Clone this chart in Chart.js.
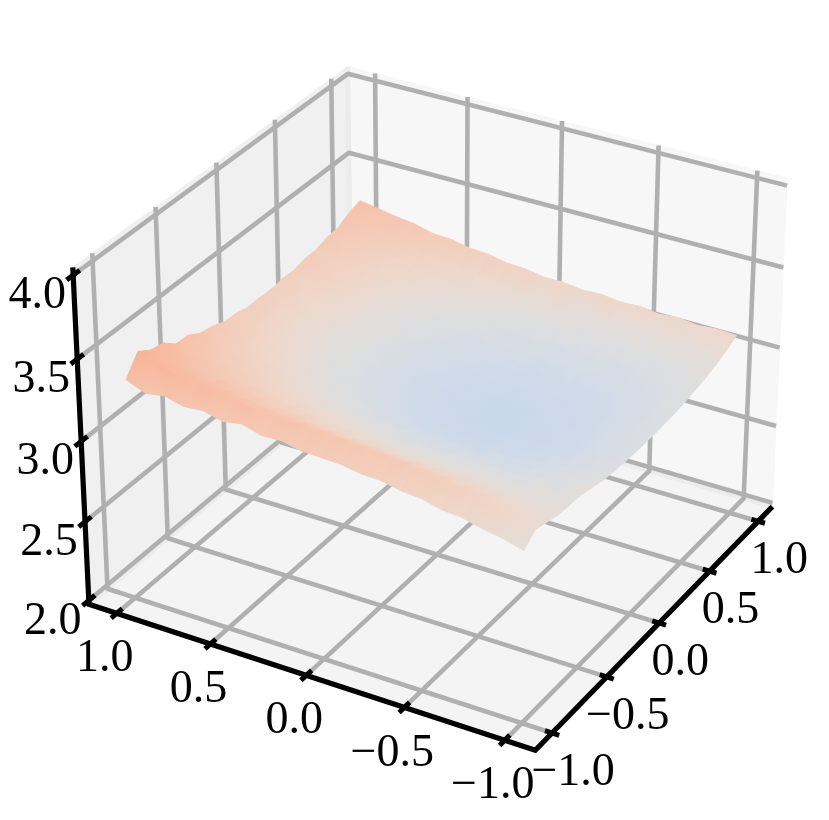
<!DOCTYPE html>
<html>
<head>
<meta charset="utf-8">
<title>Surface</title>
<script src="https://cdn.jsdelivr.net/npm/chart.js@4/dist/chart.umd.min.js"></script>
<style>
html, body { margin: 0; padding: 0; background: #fff; }
canvas { display: block; }
</style>
</head>
<body>
<canvas id="surfaceChart" width="829" height="820"></canvas>
<script>
// tick values and their labels
var xTicks = [1.0, 0.5, 0.0, -0.5, -1.0];
var yTicks = [-1.0, -0.5, 0.0, 0.5, 1.0];
var zTicks = [2.0, 2.5, 3.0, 3.5, 4.0];
var xTickLabels = ['1.0', '0.5', '0.0', '\u22120.5', '\u22121.0'];
var yTickLabels = ['\u22121.0', '\u22120.5', '0.0', '0.5', '1.0'];
var zTickLabels = ['2.0', '2.5', '3.0', '3.5', '4.0'];

// surface samples
var gridX = [1.0, 0.9, 0.8, 0.7, 0.6, 0.5, 0.4, 0.3, 0.2, 0.1, 0.0, -0.1, -0.2, -0.3, -0.4, -0.5, -0.6, -0.7, -0.8, -0.9, -1.0];
var gridY = [-1.0, -0.9, -0.8, -0.7, -0.6, -0.5, -0.4, -0.3, -0.2, -0.1, 0.0, 0.1, 0.2, 0.3, 0.4, 0.5, 0.6, 0.7, 0.8, 0.9, 1.0];
var surfaceZ = [
    [3.34, 3.29, 3.31, 3.28, 3.29, 3.26, 3.28, 3.245, 3.25, 3.225, 3.22, 3.215, 3.195, 3.19, 3.165, 3.155, 3.125, 3.115, 3.085, 3.065, 3.03],
    [3.45, 3.40, 3.37, 3.355, 3.34, 3.325, 3.31, 3.30, 3.295, 3.29, 3.28, 3.27, 3.26, 3.25, 3.235, 3.22, 3.20, 3.175, 3.15, 3.12, 3.09],
    [3.40, 3.36, 3.33, 3.31, 3.29, 3.27, 3.25, 3.24, 3.23, 3.22, 3.21, 3.20, 3.19, 3.18, 3.17, 3.16, 3.14, 3.13, 3.11, 3.09, 3.07],
    [3.385, 3.32, 3.28, 3.26, 3.24, 3.22, 3.19, 3.18, 3.16, 3.15, 3.14, 3.13, 3.12, 3.11, 3.11, 3.10, 3.09, 3.08, 3.07, 3.06, 3.05],
    [3.32, 3.285, 3.25, 3.22, 3.19, 3.17, 3.15, 3.13, 3.11, 3.10, 3.08, 3.07, 3.06, 3.06, 3.05, 3.05, 3.04, 3.04, 3.04, 3.04, 3.04],
    [3.315, 3.26, 3.22, 3.19, 3.16, 3.13, 3.11, 3.09, 3.07, 3.05, 3.04, 3.03, 3.02, 3.01, 3.01, 3.01, 3.01, 3.01, 3.02, 3.02, 3.04],
    [3.27, 3.23, 3.19, 3.16, 3.13, 3.10, 3.07, 3.04, 3.02, 3.01, 2.99, 2.98, 2.97, 2.97, 2.97, 2.97, 2.97, 2.98, 2.99, 3.00, 3.02],
    [3.255, 3.21, 3.16, 3.13, 3.10, 3.06, 3.03, 3.01, 2.98, 2.97, 2.95, 2.94, 2.93, 2.93, 2.93, 2.93, 2.94, 2.95, 2.97, 2.99, 3.00],
    [3.225, 3.19, 3.14, 3.11, 3.07, 3.04, 3.01, 2.98, 2.95, 2.93, 2.91, 2.90, 2.89, 2.89, 2.90, 2.90, 2.91, 2.93, 2.95, 2.97, 2.99],
    [3.22, 3.17, 3.13, 3.09, 3.05, 3.015, 2.98, 2.95, 2.92, 2.90, 2.885, 2.875, 2.865, 2.865, 2.87, 2.88, 2.89, 2.91, 2.93, 2.96, 2.985],
    [3.20, 3.16, 3.115, 3.075, 3.035, 3.00, 2.965, 2.935, 2.91, 2.89, 2.87, 2.86, 2.85, 2.85, 2.86, 2.865, 2.88, 2.895, 2.925, 2.955, 2.98],
    [3.205, 3.155, 3.11, 3.07, 3.03, 2.995, 2.96, 2.93, 2.90, 2.88, 2.86, 2.85, 2.84, 2.84, 2.85, 2.855, 2.87, 2.89, 2.92, 2.95, 2.98],
    [3.195, 3.16, 3.11, 3.07, 3.03, 3.00, 2.96, 2.93, 2.90, 2.88, 2.86, 2.85, 2.84, 2.84, 2.85, 2.86, 2.87, 2.89, 2.92, 2.95, 2.98],
    [3.21, 3.16, 3.12, 3.08, 3.04, 3.00, 2.97, 2.94, 2.91, 2.89, 2.87, 2.86, 2.85, 2.85, 2.86, 2.87, 2.88, 2.90, 2.93, 2.96, 2.985],
    [3.205, 3.17, 3.13, 3.09, 3.05, 3.02, 2.98, 2.95, 2.93, 2.91, 2.89, 2.88, 2.87, 2.87, 2.875, 2.88, 2.89, 2.91, 2.94, 2.965, 2.99],
    [3.225, 3.18, 3.14, 3.10, 3.06, 3.03, 3.00, 2.97, 2.945, 2.925, 2.905, 2.895, 2.89, 2.885, 2.895, 2.90, 2.91, 2.925, 2.95, 2.975, 3.00],
    [3.225, 3.19, 3.155, 3.12, 3.08, 3.05, 3.02, 3.00, 2.97, 2.95, 2.935, 2.925, 2.915, 2.915, 2.92, 2.925, 2.935, 2.95, 2.97, 2.99, 3.015],
    [3.25, 3.21, 3.175, 3.14, 3.11, 3.08, 3.05, 3.03, 3.00, 2.985, 2.97, 2.96, 2.95, 2.95, 2.955, 2.955, 2.96, 2.975, 2.99, 3.01, 3.03],
    [3.255, 3.23, 3.20, 3.17, 3.14, 3.115, 3.09, 3.07, 3.05, 3.03, 3.01, 3.00, 2.995, 2.99, 2.995, 2.995, 3.00, 3.01, 3.02, 3.035, 3.05],
    [3.295, 3.26, 3.24, 3.21, 3.18, 3.16, 3.14, 3.12, 3.10, 3.09, 3.075, 3.065, 3.06, 3.055, 3.055, 3.05, 3.05, 3.055, 3.06, 3.07, 3.08],
    [3.32, 3.30, 3.28, 3.265, 3.235, 3.23, 3.205, 3.20, 3.175, 3.17, 3.15, 3.15, 3.135, 3.14, 3.125, 3.13, 3.115, 3.125, 3.11, 3.12, 3.113]
];

// colour stops along z
var colorZ = [2.84, 2.90, 2.96, 3.03, 3.12, 3.22, 3.32, 3.45];
var colorR = [202, 209, 217, 225, 238, 243, 247, 250];
var colorG = [216, 219, 221, 222, 216, 205, 192, 178];
var colorB = [236, 232, 227, 219, 204, 186, 168, 150];

// axis box
var xLim = 1.15, yLim = 1.15, zMin = 1.975, zMax = 4.045;

// same camera as a default 3d view, x axis flipped (elev 30, azim -60, dist 10)
var elev = 30 * Math.PI / 180, azim = -60 * Math.PI / 180, dist = 10;
var boxA = 0.5952, boxC = 0.4464;
var nx = Math.cos(elev) * Math.cos(azim), ny = Math.cos(elev) * Math.sin(azim), nz = Math.sin(elev);
var ux = -ny / Math.cos(elev), uy = nx / Math.cos(elev);
var vx = ny * 0 - nz * uy, vy = nz * ux, vz = nx * uy - ny * ux;
var scaleX = 429.5, scaleY = 430, originX = 437, originY = 392;

var ctx = document.getElementById('surfaceChart').getContext('2d');

function project(x, y, z) {
    var X = -x / xLim * boxA;
    var Y = y / yLim * boxA;
    var Z = (z - (zMin + zMax) / 2) / (zMax - zMin) * 2 * boxC;
    var d = dist - (X * nx + Y * ny + Z * nz);
    return {
        x: originX + scaleX * (X * ux + Y * uy) * dist / d,
        y: originY - scaleY * (X * vx + Y * vy + Z * vz) * dist / d,
        depth: d
    };
}

function colorFor(z) {
    var i = 0;
    if (z <= colorZ[0]) return 'rgb(' + colorR[0] + ',' + colorG[0] + ',' + colorB[0] + ')';
    while (i < colorZ.length - 2 && z > colorZ[i + 1]) i++;
    var t = Math.min(1, (z - colorZ[i]) / (colorZ[i + 1] - colorZ[i]));
    var r = colorR[i] + (colorR[i + 1] - colorR[i]) * t;
    var g = colorG[i] + (colorG[i + 1] - colorG[i]) * t;
    var b = colorB[i] + (colorB[i + 1] - colorB[i]) * t;
    return 'rgb(' + Math.round(r) + ',' + Math.round(g) + ',' + Math.round(b) + ')';
}

function path(points) {
    return points.map(function (p) {
        var q = project(p[0], p[1], p[2]);
        return { x: q.x, y: q.y };
    });
}

function polygon(points, color) {
    return {
        data: path(points), showLine: true, fill: 'shape', backgroundColor: color,
        borderColor: color, borderWidth: 1, pointRadius: 0, borderJoinStyle: 'round'
    };
}

function polyline(points, color, width, join) {
    return {
        data: path(points), showLine: true, fill: false, borderColor: color,
        borderWidth: width, pointRadius: 0, borderJoinStyle: join || 'round'
    };
}

// a cell shades from its lowest corner to its highest
function cellGradient(corners) {
    var lo = corners[0], hi = corners[0];
    corners.forEach(function (c) {
        if (c[2] < lo[2]) lo = c;
        if (c[2] > hi[2]) hi = c;
    });
    if (lo === hi) return colorFor(lo[2]);
    var a = project(lo[0], lo[1], lo[2]), b = project(hi[0], hi[1], hi[2]);
    var g = ctx.createLinearGradient(a.x, a.y, b.x, b.y);
    g.addColorStop(0, colorFor(lo[2]));
    g.addColorStop(1, colorFor(hi[2]));
    return g;
}

var layers = [];
var paneLeft = '#f0f0f0', paneRight = '#f7f7f7', paneFloor = '#f4f4f4', paneEdge = '#ececec';
var gridColor = '#b0b0b0', gridWidth = 4.6;

layers.push(polygon([[xLim, -yLim, zMin], [xLim, yLim, zMin], [xLim, yLim, zMax], [xLim, -yLim, zMax], [xLim, -yLim, zMin]], paneLeft));
layers.push(polygon([[xLim, yLim, zMin], [-xLim, yLim, zMin], [-xLim, yLim, zMax], [xLim, yLim, zMax], [xLim, yLim, zMin]], paneRight));
layers.push(polygon([[xLim, -yLim, zMin], [-xLim, -yLim, zMin], [-xLim, yLim, zMin], [xLim, yLim, zMin], [xLim, -yLim, zMin]], paneFloor));
layers.push(polyline([[xLim, yLim, zMax], [xLim, yLim, zMin], [xLim, -yLim, zMin]], paneEdge, 5));
layers.push(polyline([[xLim, yLim, zMin], [-xLim, yLim, zMin]], paneEdge, 5));

xTicks.forEach(function (v) {
    layers.push(polyline([[v, -yLim, zMin], [v, yLim, zMin], [v, yLim, zMax]], gridColor, gridWidth));
});
yTicks.forEach(function (v) {
    layers.push(polyline([[-xLim, v, zMin], [xLim, v, zMin], [xLim, v, zMax]], gridColor, gridWidth));
});
zTicks.forEach(function (v) {
    layers.push(polyline([[xLim, -yLim, v], [xLim, yLim, v], [-xLim, yLim, v]], gridColor, gridWidth));
});

// black edges and tick marks
layers.push(polyline([[xLim, -yLim, zMax], [xLim, -yLim, zMin], [-xLim, -yLim, zMin], [-xLim, yLim, zMin]], '#000', 5.2, 'miter'));
xTicks.forEach(function (v) {
    layers.push(polyline([[v, -yLim - 0.045, zMin], [v, -yLim + 0.045, zMin]], '#000', 5));
});
yTicks.forEach(function (v) {
    layers.push(polyline([[-xLim - 0.035, v, zMin], [-xLim + 0.035, v, zMin]], '#000', 5));
});
zTicks.forEach(function (v) {
    layers.push(polyline([[xLim, -yLim - 0.05, v], [xLim, -yLim + 0.05, v]], '#000', 5));
});

// surface cells, far ones first
var cells = [];
for (var j = 0; j < gridY.length - 1; j++) {
    for (var i = 0; i < gridX.length - 1; i++) {
        var corners = [
            [gridX[i], gridY[j], surfaceZ[j][i]],
            [gridX[i + 1], gridY[j], surfaceZ[j][i + 1]],
            [gridX[i + 1], gridY[j + 1], surfaceZ[j + 1][i + 1]],
            [gridX[i], gridY[j + 1], surfaceZ[j + 1][i]]
        ];
        var depth = 0;
        corners.forEach(function (c) { depth += project(c[0], c[1], c[2]).depth / 4; });
        cells.push({ corners: corners, depth: depth });
    }
}
cells.sort(function (a, b) { return b.depth - a.depth; });
cells.forEach(function (c) {
    layers.push(polygon(c.corners.concat([c.corners[0]]), cellGradient(c.corners)));
});

// Chart.js paints dataset 0 last, so flip the list
var datasets = layers.slice().reverse();

// tick labels sit at the tick position plus a fixed offset
var tickText = {
    id: 'tickText',
    afterDatasetsDraw: function (chart) {
        var c = chart.ctx;
        var sx = chart.scales.x, sy = chart.scales.y;
        function put(text, p, dx, dy) {
            c.fillText(text, sx.getPixelForValue(p.x) + dx, sy.getPixelForValue(p.y) + dy);
        }
        c.save();
        c.font = '46px "Liberation Serif"';
        c.fillStyle = '#000';
        c.textAlign = 'center';
        c.textBaseline = 'middle';
        xTicks.forEach(function (v, k) {
            put(xTickLabels[k], project(v, -yLim, zMin), -12, 46);
        });
        yTicks.forEach(function (v, k) {
            put(yTickLabels[k], project(-xLim, v, zMin), 21, 40);
        });
        zTicks.forEach(function (v, k) {
            put(zTickLabels[k], project(xLim, -yLim, v), -36, 21);
        });
        c.restore();
    }
};

window.onload = function () {
    window.surfaceChart = new Chart(ctx, {
        type: 'scatter',
        data: { datasets: datasets },
        options: {
            responsive: false,
            animation: false,
            events: [],
            clip: false,
            layout: { padding: 0 },
            plugins: { legend: { display: false }, tooltip: { enabled: false } },
            scales: {
                x: { type: 'linear', min: 0, max: 829, display: false },
                y: { type: 'linear', min: 0, max: 820, reverse: true, display: false }
            }
        },
        plugins: [tickText]
    });
};
</script>
</body>
</html>
